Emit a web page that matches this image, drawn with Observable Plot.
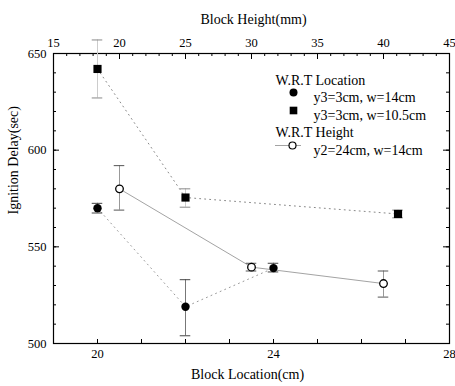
<!DOCTYPE html>
<html><head><meta charset="utf-8">
<script src="https://cdn.jsdelivr.net/npm/d3@7"></script>
<script src="https://cdn.jsdelivr.net/npm/@observablehq/plot@0.6"></script>
<style>body{margin:0;background:#fff} #chart svg{font-family:"Liberation Serif",serif;overflow:visible}</style>
</head><body><div id="chart"></div>
<script>
// W.R.T Location, y3=3cm, w=14cm (filled circles) — x in cm
const locCircleX = [20, 22, 24];
const locCircleY = [570, 519, 539];
const locCircleLo = [567.5, 504, 537];
const locCircleHi = [572.5, 533, 541.5];
// W.R.T Location, y3=3cm, w=10.5cm (filled squares) — x in cm
const locSquareX = [20, 22, 26.83];
const locSquareY = [642, 575.5, 567];
const locSquareLo = [627, 570.5, 565];
const locSquareHi = [657, 580, 569];
// W.R.T Height, y2=24cm, w=14cm (open circles) — x in mm (top axis)
const heightX = [20, 30, 40];
const heightY = [580, 539.5, 531];
const heightLo = [569, 537.5, 524];
const heightHi = [592, 541.5, 537.5];
// ticks
const bottomTicks = [20, 24, 28];
const topTicks = [15, 20, 25, 30, 35, 40, 45];
const yTicks = [500, 550, 600, 650];
const legendHeaders = ["W.R.T Location", "W.R.T Height"];
const legendItems = ["y3=3cm, w=14cm", "y3=3cm, w=10.5cm", "y2=24cm, w=14cm"];

const mmToCm = mm => 19 + (mm - 15) * 0.3;
const cmToMm = cm => 15 + (cm - 19) / 0.3;

const series = (xs, ys, lo, hi, conv = d => d) =>
  xs.map((x, i) => ({x: conv(x), y: ys[i], lo: lo[i], hi: hi[i]}));
const circles = series(locCircleX, locCircleY, locCircleLo, locCircleHi);
const squares = series(locSquareX, locSquareY, locSquareLo, locSquareHi);
const opens = series(heightX, heightY, heightLo, heightHi, mmToCm);

const xMin = 19, xMax = 28, yMin = 500, yMax = 650;
const pxX = 396 / 9, pxY = 290 / 150;

// tick data
const bottomMinor = d3.range(19, 28.001, 1);
const topMinor = d3.range(15, 45.001, 1).map(mmToCm);
const topMajor = topTicks.map(mmToCm);
const yMinor = d3.range(500, 650.001, 10);

function errorMarks(data, stroke, capStroke) {
  const cap = 0.12;
  return [
    Plot.ruleX(data, {x: "x", y1: "lo", y2: "hi", stroke, strokeWidth: 1}),
    Plot.ruleY(data, {y: "lo", x1: d => d.x - cap, x2: d => d.x + cap, stroke: capStroke, strokeWidth: 1}),
    Plot.ruleY(data, {y: "hi", x1: d => d.x - cap, x2: d => d.x + cap, stroke: capStroke, strokeWidth: 1})
  ];
}

const chart = Plot.plot({
  width: 455,
  height: 386,
  marginLeft: 53,
  marginRight: 6,
  marginTop: 53,
  marginBottom: 43,
  style: {fontFamily: "'Liberation Serif', serif", fontSize: "12.5px", background: "#fff", color: "#000"},
  x: {domain: [xMin, xMax]},
  y: {domain: [yMin, yMax]},
  marks: [
    Plot.frame({stroke: "#000", strokeWidth: 1.2}),
    // inward ticks
    Plot.ruleX(bottomMinor, {x: d => d, y1: yMin, y2: yMin + 4 / pxY, stroke: "#000"}),
    Plot.ruleX(topMinor, {x: d => d, y1: yMax, y2: yMax - 3 / pxY, stroke: "#000"}),
    Plot.ruleX(topMajor, {x: d => d, y1: yMax, y2: yMax - 6 / pxY, stroke: "#000"}),
    Plot.ruleY(yMinor, {y: d => d, x1: xMin, x2: xMin + 3 / pxX, stroke: "#000"}),
    Plot.ruleY(yTicks, {y: d => d, x1: xMin, x2: xMin + 6 / pxX, stroke: "#000"}),
    Plot.ruleY(yMinor, {y: d => d, x1: xMax, x2: xMax - 3 / pxX, stroke: "#000"}),
    Plot.ruleY(yTicks, {y: d => d, x1: xMax, x2: xMax - 6 / pxX, stroke: "#000"}),
    // axes labels
    Plot.axisX({anchor: "bottom", ticks: bottomTicks, tickSize: 0, tickPadding: 6, label: null, fontSize: 12.5}),
    Plot.axisX({anchor: "top", ticks: topMajor, tickFormat: d => Math.round(cmToMm(d)), tickSize: 0, tickPadding: 7, label: null, fontSize: 12.5}),
    Plot.axisY({anchor: "left", ticks: yTicks, tickSize: 0, tickPadding: 7, label: null, fontSize: 12.5}),
    Plot.text(["Block Location(cm)"], {frameAnchor: "bottom", dy: 35, dx: -4, fontSize: 14}),
    Plot.text(["Block Height(mm)"], {frameAnchor: "top", dy: -39, dx: 2, fontSize: 14}),
    Plot.text(["Ignition Delay(sec)"], {frameAnchor: "left", dx: -40, dy: 16, rotate: -90, fontSize: 14}),
    // lines
    Plot.line(squares, {x: "x", y: "y", stroke: "#888", strokeWidth: 1, strokeDasharray: "1,4"}),
    Plot.line(circles, {x: "x", y: "y", stroke: "#999", strokeWidth: 1, strokeDasharray: "1,4"}),
    Plot.line(opens, {x: "x", y: "y", stroke: "#999", strokeWidth: 0.9}),
    // error bars
    ...errorMarks(squares, "#ccc", "#888"),
    ...errorMarks(circles, "#777", "#444"),
    ...errorMarks(opens, "#999", "#555"),
    // points
    Plot.dot(squares, {x: "x", y: "y", symbol: "square", r: 4.6, fill: "#000", stroke: "none"}),
    Plot.dot(circles, {x: "x", y: "y", r: 4.2, fill: "#000"}),
    Plot.dot(opens, {x: "x", y: "y", r: 3.8, fill: "#fff", stroke: "#000", strokeWidth: 1.3}),
    // legend
    Plot.text([legendHeaders[0]], {frameAnchor: "top-left", dx: 222, dy: 22, textAnchor: "start", fontSize: 14}),
    Plot.text([legendHeaders[1]], {frameAnchor: "top-left", dx: 222, dy: 74, textAnchor: "start", fontSize: 14}),
    Plot.text([legendItems[0]], {frameAnchor: "top-left", dx: 260, dy: 39, textAnchor: "start", fontSize: 14}),
    Plot.text([legendItems[1]], {frameAnchor: "top-left", dx: 260, dy: 57, textAnchor: "start", fontSize: 14}),
    Plot.text([legendItems[2]], {frameAnchor: "top-left", dx: 260, dy: 92, textAnchor: "start", fontSize: 14}),
    Plot.dot([0], {frameAnchor: "top-left", dx: 240, dy: 39, r: 4, fill: "#000"}),
    Plot.dot([0], {frameAnchor: "top-left", dx: 240, dy: 57, r: 4.3, symbol: "square", fill: "#000"}),
    Plot.ruleY([yMax - 92 / pxY], {x1: xMin + 222 / pxX, x2: xMin + 248 / pxX, stroke: "#999", strokeWidth: 0.9}),
    Plot.dot([0], {frameAnchor: "top-left", dx: 239, dy: 92, r: 3.5, fill: "#fff", stroke: "#000", strokeWidth: 1.2})
  ]
});
document.getElementById("chart").append(chart);
</script>
</body></html>
